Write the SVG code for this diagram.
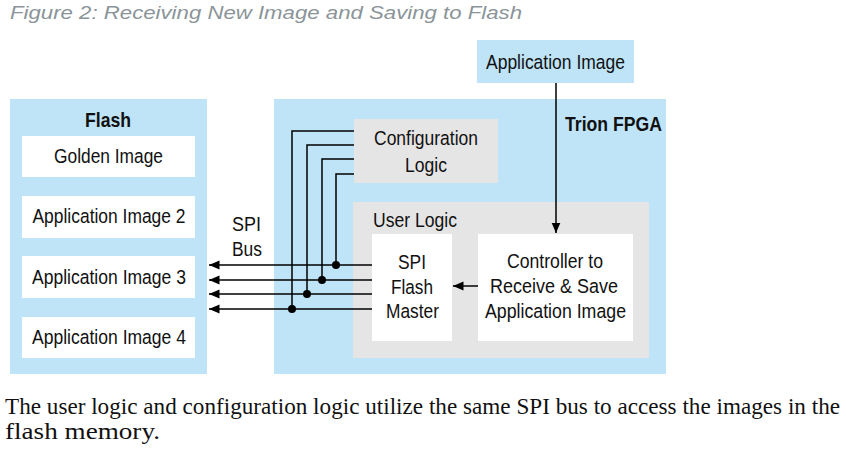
<svg xmlns="http://www.w3.org/2000/svg" width="846" height="457" viewBox="0 0 846 457">
  <defs>
    <style>
      .blue { fill: #bfe4f8; }
      .gray { fill: #e5e5e5; }
      .white { fill: #ffffff; }
      .t { font-family: "Liberation Sans", Arial, sans-serif; font-size: 20.5px; fill: #111; }
      .c { text-anchor: middle; }
      .b { font-weight: bold; }
      .title { font-family: "Liberation Sans", Arial, sans-serif; font-size: 19px; font-style: italic; fill: #8a9499; }
      .para { font-family: "Liberation Serif", "Times New Roman", serif; font-size: 23px; fill: #111; }
      .wire { stroke: #000; stroke-width: 1.5; fill: none; }
      .dot { fill: #000; }
    </style>
    <marker id="arr" markerUnits="userSpaceOnUse" markerWidth="11" markerHeight="10" refX="10.5" refY="4.5" orient="auto">
      <path d="M0,0 L10.5,4.5 L0,9 z" fill="#000"/>
    </marker>
  </defs>

  <rect width="846" height="457" fill="#ffffff"/>

  <text class="title" x="10" y="19" textLength="512" lengthAdjust="spacingAndGlyphs">Figure 2: Receiving New Image and Saving to Flash</text>

  <g id="flash">
    <rect class="blue" x="10" y="99" width="197" height="275"/>
    <text class="t b c" x="108" y="127" textLength="46" lengthAdjust="spacingAndGlyphs">Flash</text>
  </g>
  <g id="golden-image">
    <rect class="white" x="22" y="136" width="173" height="41"/>
    <text class="t c" x="108.5" y="163" textLength="109" lengthAdjust="spacingAndGlyphs">Golden Image</text>
  </g>
  <g id="app-image-2">
    <rect class="white" x="22" y="196" width="173" height="42"/>
    <text class="t c" x="109" y="223" textLength="153" lengthAdjust="spacingAndGlyphs">Application Image 2</text>
  </g>
  <g id="app-image-3">
    <rect class="white" x="22" y="256" width="173" height="42"/>
    <text class="t c" x="109" y="284" textLength="154" lengthAdjust="spacingAndGlyphs">Application Image 3</text>
  </g>
  <g id="app-image-4">
    <rect class="white" x="22" y="317" width="173" height="41"/>
    <text class="t c" x="109" y="344" textLength="154" lengthAdjust="spacingAndGlyphs">Application Image 4</text>
  </g>

  <g id="trion-fpga">
    <rect class="blue" x="274" y="99" width="392" height="275"/>
    <text class="t b" x="565" y="131" textLength="97" lengthAdjust="spacingAndGlyphs">Trion FPGA</text>
  </g>
  <g id="config-logic">
    <rect class="gray" x="354" y="119" width="144" height="64"/>
    <text class="t c" x="426" y="145" textLength="104" lengthAdjust="spacingAndGlyphs">Configuration</text>
    <text class="t c" x="426" y="171.5" textLength="42" lengthAdjust="spacingAndGlyphs">Logic</text>
  </g>
  <g id="user-logic">
    <rect class="gray" x="353" y="202" width="296" height="156"/>
    <text class="t" x="373" y="227" textLength="84" lengthAdjust="spacingAndGlyphs">User Logic</text>
  </g>
  <g id="spi-flash-master">
    <rect class="white" x="372" y="234" width="80" height="107"/>
    <text class="t c" x="412" y="269" textLength="28" lengthAdjust="spacingAndGlyphs">SPI</text>
    <text class="t c" x="412" y="293.5" textLength="42" lengthAdjust="spacingAndGlyphs">Flash</text>
    <text class="t c" x="412.5" y="318" textLength="53" lengthAdjust="spacingAndGlyphs">Master</text>
  </g>
  <g id="controller">
    <rect class="white" x="478" y="234" width="155" height="107"/>
    <text class="t c" x="555" y="268" textLength="96" lengthAdjust="spacingAndGlyphs">Controller to</text>
    <text class="t c" x="554" y="293" textLength="128" lengthAdjust="spacingAndGlyphs">Receive &amp; Save</text>
    <text class="t c" x="555.5" y="318" textLength="141" lengthAdjust="spacingAndGlyphs">Application Image</text>
  </g>
  <g id="application-image">
    <rect class="blue" x="477" y="40" width="157" height="43"/>
    <text class="t c" x="555.5" y="68.5" textLength="139" lengthAdjust="spacingAndGlyphs">Application Image</text>
  </g>

  <g id="spi-bus-label">
    <text class="t c" x="246.5" y="231" textLength="29" lengthAdjust="spacingAndGlyphs">SPI</text>
    <text class="t c" x="247" y="256" textLength="30" lengthAdjust="spacingAndGlyphs">Bus</text>
  </g>

  <g id="connectors">
    <line class="wire" x1="556" y1="83" x2="556" y2="233" marker-end="url(#arr)"/>
    <line class="wire" x1="478" y1="286" x2="453" y2="286" marker-end="url(#arr)"/>

    <line class="wire" x1="372" y1="265" x2="209" y2="265" marker-end="url(#arr)"/>
    <line class="wire" x1="372" y1="280" x2="209" y2="280" marker-end="url(#arr)"/>
    <line class="wire" x1="372" y1="294" x2="209" y2="294" marker-end="url(#arr)"/>
    <line class="wire" x1="372" y1="309" x2="209" y2="309" marker-end="url(#arr)"/>

    <polyline class="wire" points="354,174 336,174 336,265"/>
    <polyline class="wire" points="354,159 322,159 322,280"/>
    <polyline class="wire" points="354,145 307,145 307,294"/>
    <polyline class="wire" points="354,131 292,131 292,309"/>

    <circle class="dot" cx="336" cy="265" r="4"/>
    <circle class="dot" cx="322" cy="280" r="4"/>
    <circle class="dot" cx="307" cy="294" r="4"/>
    <circle class="dot" cx="292" cy="309" r="4"/>
  </g>

  <text class="para" x="5" y="414" textLength="835" lengthAdjust="spacingAndGlyphs">The user logic and configuration logic utilize the same SPI bus to access the images in the</text>
  <text class="para" x="5" y="439" textLength="155" lengthAdjust="spacingAndGlyphs">flash memory.</text>
</svg>
